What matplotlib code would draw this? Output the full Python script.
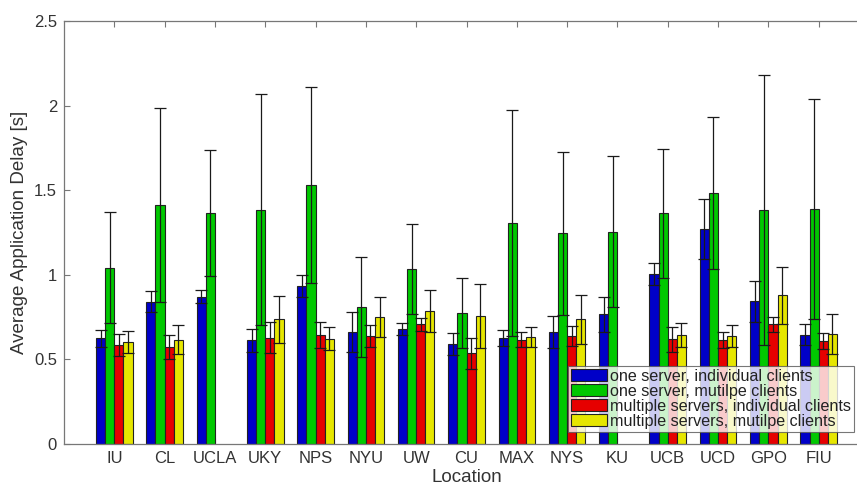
import numpy as np
import matplotlib

matplotlib.use("Agg")
import matplotlib.pyplot as plt

plt.rcParams["font.family"] = ["Liberation Sans", "DejaVu Sans"]

locations = ["IU", "CL", "UCLA", "UKY", "NPS", "NYU", "UW", "CU", "MAX", "NYS",
             "KU", "UCB", "UCD", "GPO", "FIU"]
series_names = ["one server, individual clients", "one server, mutilpe clients",
                "multiple servers, individual clients", "multiple servers, mutilpe clients"]
nan = np.nan

# mean delay [s]
one_ind = [0.625, 0.841, 0.871, 0.613, 0.934, 0.660, 0.680, 0.591, 0.625, 0.664,
           0.766, 1.003, 1.273, 0.843, 0.646]
one_mul = [1.042, 1.414, 1.365, 1.385, 1.531, 0.810, 1.036, 0.776, 1.306, 1.245,
           1.255, 1.363, 1.482, 1.383, 1.389]
mul_ind = [0.585, 0.573, nan, 0.627, 0.644, 0.638, 0.707, 0.536, 0.617, 0.640,
           nan, 0.619, 0.615, 0.707, 0.609]
mul_mul = [0.603, 0.615, nan, 0.737, 0.622, 0.751, 0.786, 0.755, 0.632, 0.737,
           nan, 0.644, 0.640, 0.879, 0.650]

# error (half range) [s]
one_ind_err = [0.050, 0.061, 0.040, 0.067, 0.067, 0.118, 0.035, 0.067, 0.047, 0.095,
               0.105, 0.065, 0.177, 0.120, 0.063]
one_mul_err = [0.327, 0.572, 0.373, 0.684, 0.581, 0.293, 0.266, 0.207, 0.666, 0.481,
               0.447, 0.379, 0.449, 0.798, 0.650]
mul_ind_err = [0.067, 0.071, nan, 0.092, 0.077, 0.063, 0.040, 0.092, 0.045, 0.059,
               nan, 0.074, 0.049, 0.045, 0.049]
mul_mul_err = [0.063, 0.086, nan, 0.140, 0.069, 0.118, 0.124, 0.189, 0.058, 0.144,
               nan, 0.071, 0.065, 0.169, 0.120]

colors = ["#0000c8", "#00c800", "#e60000", "#e6e600"]

values = [one_ind, one_mul, mul_ind, mul_mul]
errors = [one_ind_err, one_mul_err, mul_ind_err, mul_mul_err]

fig = plt.figure(figsize=(8.57, 4.84), dpi=100)
# axes box runs a bit past the right edge of the image, like the original
ax = fig.add_axes([64 / 857, 40 / 484, 805 / 857, 423 / 484])

x = np.arange(1, len(locations) + 1)
group_width = 4 / 5.5
bar_w = group_width / 4
for i in range(4):
    offs = x - group_width / 2 + bar_w * (i + 0.5)
    ax.bar(offs, values[i], bar_w, color=colors[i], edgecolor="#222222",
           linewidth=0.8, label=series_names[i], zorder=2)
    ax.errorbar(offs, values[i], yerr=errors[i], fmt="none", ecolor="#1a1a1a",
                elinewidth=0.9, capsize=4.6, capthick=0.9, zorder=3)

ax.set_xlim(0, 16)
ax.set_ylim(0, 2.5)
ax.set_xticks(x)
ax.set_xticklabels(locations)
ax.set_yticks([0, 0.5, 1, 1.5, 2, 2.5])
ax.set_yticklabels(["0", "0.5", "1", "1.5", "2", "2.5"])
ax.tick_params(direction="in", top=True, right=True, length=4, width=0.8,
               color="#777777", labelsize=12, labelcolor="#333333", pad=5)
for sp in ax.spines.values():
    sp.set_color("#777777")
    sp.set_linewidth(0.9)

ax.set_xlabel("Location", fontsize=13.5, color="#333333", labelpad=2)
ax.set_ylabel("Average Application Delay [s]", fontsize=13.5, color="#333333", labelpad=4)

leg = ax.legend(loc="lower left", bbox_to_anchor=(568 / 857, 52 / 484),
                bbox_transform=fig.transFigure, fontsize=11.6, frameon=True,
                fancybox=False, edgecolor="#555555", borderpad=0.2,
                labelspacing=0.0, handlelength=2.2, handleheight=0.75,
                handletextpad=0.2, borderaxespad=0)
leg.get_frame().set_linewidth(0.8)
for t in leg.get_texts():
    t.set_color("#222222")

fig.savefig("out.png", dpi=100)
